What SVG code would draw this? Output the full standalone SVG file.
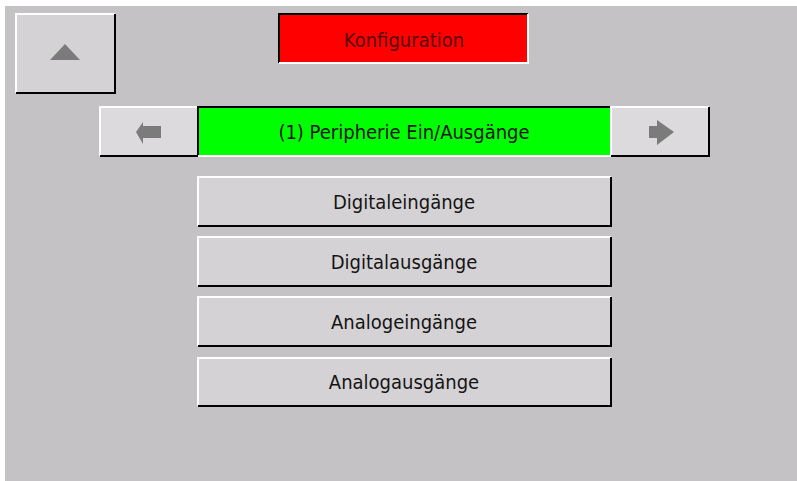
<svg xmlns="http://www.w3.org/2000/svg" width="797" height="481" viewBox="0 0 797 481">
<style>
.t{font-family:"DejaVu Sans Condensed","DejaVu Sans",sans-serif;font-size:20px;text-anchor:middle;fill:#141414}
.btn{fill:#d4d2d4}
.hi{stroke:#ffffff;stroke-width:2;fill:none}
.lo{stroke:#000000;stroke-width:2;fill:none}
.ico{fill:#7b7b7b}
</style>
<rect x="0" y="0" width="797" height="481" fill="#ffffff"/>
<rect x="5" y="6" width="792" height="475" fill="#c4c2c4"/>
<g id="up">
<rect class="btn" x="16" y="14" width="99" height="79" fill="#d8d6d8"/>
<polyline class="hi" points="16,93 16,14 115,14"/>
<polyline class="lo" points="115,14 115,93 16,93"/>
<polygon class="ico" points="65,44 80,60 50,60"/>
</g>
<g id="title">
<rect x="279" y="14" width="249" height="49" fill="#ff0000"/>
<polyline class="lo" points="279,63 279,14 528,14"/>
<polyline class="hi" points="528,14 528,63 279,63"/>
<text class="t" x="404" y="47" style="fill:#5a0000">Konfiguration</text>
</g>
<g id="prev">
<rect x="100" y="107" width="98" height="49" fill="#dcdadc"/>
<polyline class="hi" points="100,156 100,107 198,107"/>
<polyline class="lo" points="198,107 198,156 100,156"/>
<polygon class="ico" points="136,132 143,122 143,126 161,126 161,138 143,138 143,144"/>
</g>
<g id="section">
<rect x="198" y="107" width="413" height="49" fill="#00ff00"/>
<polyline class="lo" points="198,156 198,107 611,107"/>
<polyline class="hi" points="611,107 611,156 198,156"/>
<text class="t" x="404" y="139">(1) Peripherie Ein/Ausgänge</text>
</g>
<g id="next">
<rect x="611" y="107" width="98" height="49" fill="#dcdadc"/>
<polyline class="hi" points="611,156 611,107 709,107"/>
<polyline class="lo" points="709,107 709,156 611,156"/>
<polygon class="ico" points="674,132 657,120 657,126 649,126 649,138 657,138 657,145"/>
</g>
<g id="digin">
<rect class="btn" x="198" y="177" width="413" height="49"/>
<polyline class="hi" points="198,226 198,177 611,177"/>
<polyline class="lo" points="611,177 611,226 198,226"/>
<text class="t" x="404" y="209">Digitaleingänge</text>
</g>
<g id="digout">
<rect class="btn" x="198" y="237" width="413" height="49"/>
<polyline class="hi" points="198,286 198,237 611,237"/>
<polyline class="lo" points="611,237 611,286 198,286"/>
<text class="t" x="404" y="269">Digitalausgänge</text>
</g>
<g id="anain">
<rect class="btn" x="198" y="297" width="413" height="49"/>
<polyline class="hi" points="198,346 198,297 611,297"/>
<polyline class="lo" points="611,297 611,346 198,346"/>
<text class="t" x="404" y="329">Analogeingänge</text>
</g>
<g id="anaout">
<rect class="btn" x="198" y="358" width="413" height="48"/>
<polyline class="hi" points="198,406 198,358 611,358"/>
<polyline class="lo" points="611,358 611,406 198,406"/>
<text class="t" x="404" y="389">Analogausgänge</text>
</g>
<g id="connectors"></g>
</svg>
